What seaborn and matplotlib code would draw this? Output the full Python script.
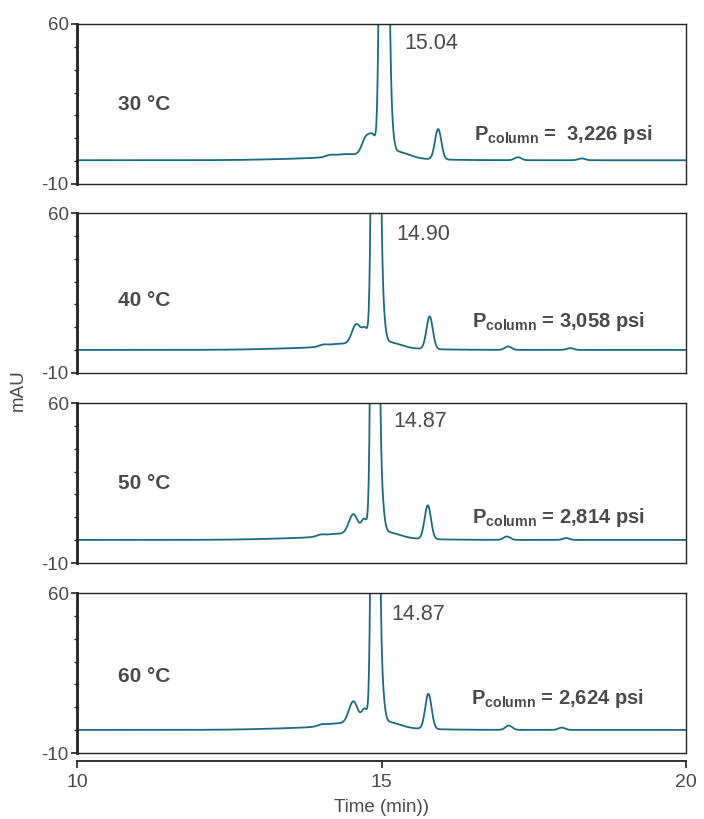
import numpy as np
import pandas as pd
import matplotlib
matplotlib.use("Agg")
import matplotlib.pyplot as plt
import seaborn as sns

# ---------------- data ----------------
temps = ["30 °C", "40 °C", "50 °C", "60 °C"]
rt_labels = ["15.04", "14.90", "14.87", "14.87"]
pressures = ["=  3,226 psi", "= 3,058 psi", "= 2,814 psi", "= 2,624 psi"]

# peak tables per panel (retention time in min, height in mAU)
main_rt = [15.04, 14.905, 14.89, 14.895]
main_sigma = [0.044, 0.042, 0.040, 0.040]
main_h = [500, 500, 500, 500]
tail_h = [25, 25, 25, 25]
tail2_h = [3.0, 2.6, 2.6, 2.6]
bridge_h = [6, 6.5, 7, 7]
shoulder_rt = [14.76, 14.59, 14.54, 14.54]
shoulder_h = [8.8, 9.3, 9.3, 10.3]
second_rt = [15.93, 15.79, 15.76, 15.77]
second_h = [13.3, 14.3, 14.8, 15.4]
minor1_rt = [17.24, 17.08, 17.06, 17.09]
minor1_h = [1.3, 1.5, 1.5, 1.9]
minor2_rt = [18.29, 18.10, 18.03, 17.96]
minor2_h = [0.8, 0.8, 0.8, 1.0]
step_rt = [14.15, 14.04, 14.00, 14.02]
step_h = [1.5, 1.5, 1.5, 1.6]
drift_h = [1.2, 1.2, 1.2, 1.3]
baseline = [0.4, 0.1, 0.1, 0.1]

time_grid = np.linspace(10, 20, 2001)

line_color = "#1b6b80"
text_color = "#4a4a4a"


def gauss(t, c, h, s):
    return h * np.exp(-((t - c) ** 2) / (2 * s * s))


def trace(i):
    t = time_grid
    m = main_rt[i]
    y = np.full_like(t, baseline[i])
    y += gauss(t, step_rt[i] + 0.35, drift_h[i], 0.9)
    y += gauss(t, step_rt[i] + 0.28, step_h[i], 0.22)
    y += gauss(t, step_rt[i], 0.6, 0.06)
    y += gauss(t, shoulder_rt[i], shoulder_h[i], 0.075)
    y += gauss(t, m - 0.17, bridge_h[i], 0.05)
    y += gauss(t, m, main_h[i], main_sigma[i])
    y += gauss(t, m + 0.08, tail_h[i], 0.05)
    y += gauss(t, m + 0.2, tail2_h[i], 0.2)
    y += gauss(t, second_rt[i], second_h[i], 0.052)
    y += gauss(t, minor1_rt[i], minor1_h[i], 0.055)
    y += gauss(t, minor2_rt[i], minor2_h[i], 0.055)
    return pd.DataFrame({"time": t, "mAU": y})


# ---------------- layout ----------------
sns.set_theme(style="white")
plt.rcParams["font.family"] = ["Liberation Sans", "DejaVu Sans"]
plt.rcParams["mathtext.fontset"] = "custom"
plt.rcParams["mathtext.rm"] = "Liberation Sans"
plt.rcParams["mathtext.bf"] = "Liberation Sans:bold"

W, H = 704, 819
fig = plt.figure(figsize=(W / 100, H / 100), dpi=100)

left_px, right_px = 77, 686
tops = [24, 213, 403, 593]
panel_h = 160

temp_y = [24.6, 21.9, 24.6, 23.3]
rtlab_x = [15.37, 15.24, 15.20, 15.16]
rtlab_y = [51.3, 50.8, 51.7, 50.8]
p_x = [16.52, 16.49, 16.49, 16.47]
p_y = [9.3, 10.3, 7.5, 11.4]

for i in range(4):
    ax = fig.add_axes([left_px / W, 1 - (tops[i] + panel_h) / H,
                       (right_px - left_px) / W, panel_h / H])
    df = trace(i)
    sns.lineplot(data=df, x="time", y="mAU", ax=ax, color=line_color,
                 linewidth=1.3)
    ax.set_xlim(10, 20)
    ax.set_ylim(-10, 60)
    ax.set_xlabel("")
    ax.set_ylabel("")
    for s in ["top", "right", "bottom"]:
        ax.spines[s].set_color("#222222")
        ax.spines[s].set_linewidth(1.0)
    ax.spines["left"].set_color("#222222")
    ax.spines["left"].set_linewidth(2.0)
    ax.set_yticks([-10, 60])
    ax.set_yticks(np.arange(0, 60, 10), minor=True)
    ax.set_yticklabels(["-10", "60"])
    ax.tick_params(axis="y", which="major", left=True, direction="out",
                   length=4, width=1.2, color="#222222", labelsize=13.5,
                   labelcolor=text_color, pad=2)
    ax.tick_params(axis="y", which="minor", left=True, direction="out",
                   length=2, width=1, color="#222222")

    ax.text(10.67, temp_y[i], temps[i], fontsize=15, fontweight="bold",
            color=text_color, ha="left", va="center")
    ax.text(rtlab_x[i], rtlab_y[i], rt_labels[i], fontsize=15.5,
            color=text_color, ha="left", va="center")
    ax.text(p_x[i], p_y[i], r"$\mathbf{P}_{\mathbf{column}}$ " + pressures[i],
            fontsize=14.5, fontweight="bold", color=text_color,
            ha="left", va="baseline")

    if i < 3:
        ax.tick_params(axis="x", bottom=False, labelbottom=False)
    else:
        ax.axhline(-10, color="#222222", linewidth=1.0, clip_on=False)
        ax.spines["bottom"].set_position(("outward", 6))
        ax.spines["bottom"].set_linewidth(1.3)
        ax.set_xticks([10, 15, 20])
        ax.set_xticklabels(["10", "15", "20"])
        ax.tick_params(axis="x", bottom=True, direction="out", length=5,
                       width=1.2, color="#222222", labelsize=14,
                       labelcolor=text_color, pad=4)
        ax.set_xlabel("Time (min))", fontsize=13.5, color=text_color,
                      labelpad=6)

fig.text(18 / W, 1 - 390 / H, "mAU", rotation=90, fontsize=13.5,
         color=text_color, ha="center", va="center")

fig.savefig("out.png", dpi=100)
